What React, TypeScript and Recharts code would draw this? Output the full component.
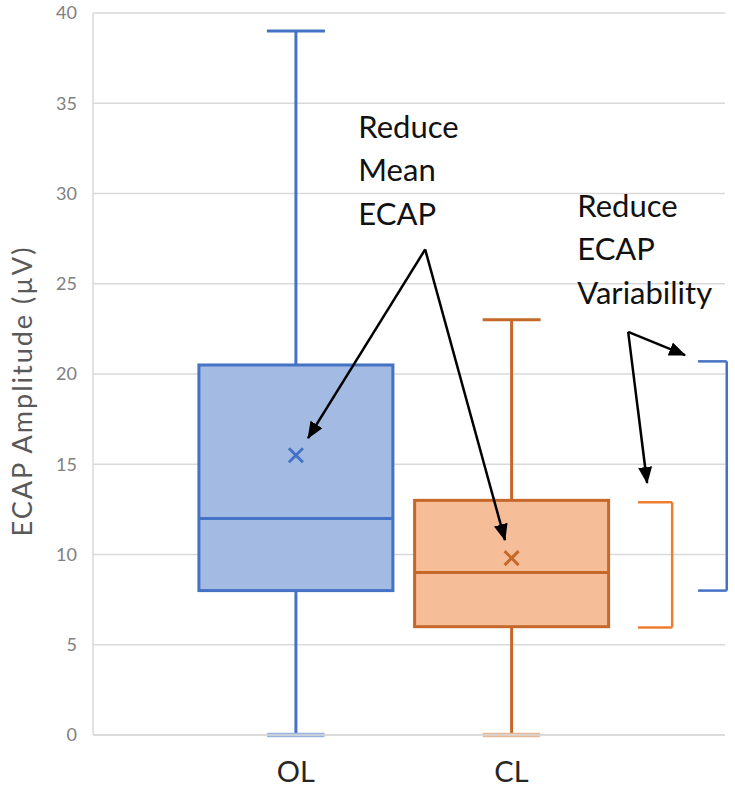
import React from 'react';
import {
  ComposedChart,
  Bar,
  XAxis,
  YAxis,
  CartesianGrid,
  ReferenceLine,
  ReferenceDot,
} from 'recharts';

// box plot stats
const groups = ['OL', 'CL'];
const groupPos = [1, 2];
const mins = [0, 0];
const q1s = [8, 6];
const medians = [12, 9];
const q3s = [20.5, 13];
const maxs = [39, 23];
const means = [15.5, 9.8];

const yTicks = [0, 5, 10, 15, 20, 25, 30, 35, 40];

const COLORS = [
  { stroke: '#4472C4', fill: '#A3BBE3', capLight: '#9AB2DE' },
  { stroke: '#C5682A', fill: '#F5BE98', capLight: '#E6B996' },
];

const data = groups.map((name, i) => ({
  name,
  x: groupPos[i],
  min: mins[i],
  q1: q1s[i],
  median: medians[i],
  q3: q3s[i],
  max: maxs[i],
  mean: means[i],
  idx: i,
}));

// annotations (data coordinates)
const meanNoteAt = { x: 1.29, y: 33.1 };
const varNoteAt = { x: 2.305, y: 28.7 };
const meanArrowFrom = { x: 1.6, y: 26.9 };
const varArrowFrom = { x: 2.541, y: 22.33 };
const arrows = [
  { from: meanArrowFrom, to: { x: 1.057, y: 16.45 } },
  { from: meanArrowFrom, to: { x: 1.97, y: 10.8 } },
  { from: varArrowFrom, to: { x: 2.805, y: 21.05 } },
  { from: varArrowFrom, to: { x: 2.629, y: 13.96 } },
];
const brackets = [
  { left: 2.865, right: 2.998, low: 8, high: 20.7, color: '#4472C4' },
  { left: 2.587, right: 2.745, low: 5.95, high: 12.9, color: '#ED7D31' },
];
const CAP_HALF = 0.133; // whisker cap half width, x units

const FONT = "Lato, 'Noto Sans', sans-serif";

const BoxShape = (props: any) => {
  const { x, y, width, height, payload } = props;
  const c = COLORS[payload.idx];
  const top = Math.min(y, y + height);
  const h = Math.abs(height);
  const span = payload.max - payload.min;
  const px = (v: number) => top + (h * (payload.max - v)) / span;
  const cx = x + width / 2;
  const cap = 29;
  const m = px(payload.mean);
  const s = 7;
  return (
    <g>
      <line x1={cx} x2={cx} y1={px(payload.max)} y2={px(payload.q3)} stroke={c.stroke} strokeWidth={3} />
      <line x1={cx} x2={cx} y1={px(payload.q1)} y2={px(payload.min)} stroke={c.stroke} strokeWidth={3} />
      <line x1={cx - cap} x2={cx + cap} y1={px(payload.max)} y2={px(payload.max)} stroke={c.stroke} strokeWidth={3} />
      <rect
        x={x}
        y={px(payload.q3)}
        width={width}
        height={px(payload.q1) - px(payload.q3)}
        fill={c.fill}
        stroke={c.stroke}
        strokeWidth={3}
      />
      <line x1={x} x2={x + width} y1={px(payload.median)} y2={px(payload.median)} stroke={c.stroke} strokeWidth={3} />
      <line x1={cx - s} x2={cx + s} y1={m - s} y2={m + s} stroke={c.stroke} strokeWidth={3} />
      <line x1={cx - s} x2={cx + s} y1={m + s} y2={m - s} stroke={c.stroke} strokeWidth={3} />
    </g>
  );
};

const noteShape = (lines: string[]) => (p: any) => (
  <text x={p.cx} y={p.cy} fill="#111" fontSize={31} fontFamily={FONT}>
    {lines.map((t, i) => (
      <tspan key={t} x={p.cx} dy={i === 0 ? 0 : 43.5}>
        {t}
      </tspan>
    ))}
  </text>
);

const arrowShape = (p: any) => (
  <line x1={p.x1} y1={p.y1} x2={p.x2} y2={p.y2} stroke="#000" strokeWidth={2.5} markerEnd="url(#arrowhead)" />
);

const YLabel = (p: any) => {
  const vb = p.viewBox;
  const cx = vb.x + 21;
  const cy = vb.y + vb.height / 2 + 17;
  return (
    <text
      x={cx}
      y={cy}
      transform={`rotate(-90 ${cx} ${cy})`}
      textAnchor="middle"
      dominantBaseline="central"
      fill="#595959"
      fontSize={27}
      letterSpacing={2}
      fontFamily={FONT}
    >
      ECAP Amplitude (µV)
    </text>
  );
};

export default function App() {
  return (
    <div style={{ position: 'absolute', left: 0, top: 0, background: '#fff' }}>
      <svg width={0} height={0} style={{ position: 'absolute' }}>
        <defs>
          <marker
            id="arrowhead"
            markerUnits="userSpaceOnUse"
            markerWidth={18}
            markerHeight={14}
            refX={16}
            refY={7}
            orient="auto"
          >
            <path d="M0,0 L17,7 L0,14 Z" fill="#000" />
          </marker>
        </defs>
      </svg>
      <ComposedChart
        width={735}
        height={788}
        data={data}
        margin={{ top: 13, right: 10, left: 0, bottom: 0 }}
      >
        <CartesianGrid vertical={false} stroke="#D9D9D9" strokeWidth={1.5} />
        <XAxis
          type="number"
          dataKey="x"
          domain={[0.06, 2.99]}
          ticks={groupPos}
          tickFormatter={(v: number) => groups[groupPos.indexOf(v)] ?? ''}
          tickLine={false}
          tickSize={0}
          tickMargin={26}
          axisLine={{ stroke: '#D9D9D9', strokeWidth: 1.5 }}
          height={53}
          tick={{ fontSize: 29, fill: '#262626', fontFamily: FONT }}
        />
        <YAxis
          type="number"
          domain={[0, 40]}
          ticks={yTicks}
          interval={0}
          width={93}
          tickLine={false}
          tickSize={0}
          tickMargin={16}
          axisLine={{ stroke: '#D9D9D9', strokeWidth: 1.5 }}
          tick={{ fontSize: 18, fill: '#808080', fontFamily: FONT }}
          label={<YLabel />}
        />
        <Bar
          dataKey={(d: any) => [d.min, d.max]}
          barSize={194}
          shape={<BoxShape />}
          isAnimationActive={false}
        />
        {data.map((d, i) => (
          <ReferenceLine
            key={`cap-${i}`}
            segment={[{ x: d.x - CAP_HALF, y: d.min }, { x: d.x + CAP_HALF, y: d.min }]}
            stroke={COLORS[i].capLight}
            strokeWidth={4.5}
            ifOverflow="visible"
          />
        ))}
        {brackets.map((b, i) => (
          <React.Fragment key={`br-${i}`}>
            <ReferenceLine
              segment={[{ x: b.left, y: b.high }, { x: b.right, y: b.high }]}
              stroke={b.color}
              strokeWidth={2.5}
              ifOverflow="visible"
            />
            <ReferenceLine
              segment={[{ x: b.right, y: b.high }, { x: b.right, y: b.low }]}
              stroke={b.color}
              strokeWidth={2.5}
              ifOverflow="visible"
            />
            <ReferenceLine
              segment={[{ x: b.left, y: b.low }, { x: b.right, y: b.low }]}
              stroke={b.color}
              strokeWidth={2.5}
              ifOverflow="visible"
            />
          </React.Fragment>
        ))}
        {arrows.map((a, i) => (
          <ReferenceLine
            key={`ar-${i}`}
            segment={[a.from, a.to]}
            shape={arrowShape}
            ifOverflow="visible"
          />
        ))}
        <ReferenceDot
          x={meanNoteAt.x}
          y={meanNoteAt.y}
          r={0}
          ifOverflow="visible"
          shape={noteShape(['Reduce', 'Mean', 'ECAP'])}
        />
        <ReferenceDot
          x={varNoteAt.x}
          y={varNoteAt.y}
          r={0}
          ifOverflow="visible"
          shape={noteShape(['Reduce', 'ECAP', 'Variability'])}
        />
      </ComposedChart>
    </div>
  );
}
